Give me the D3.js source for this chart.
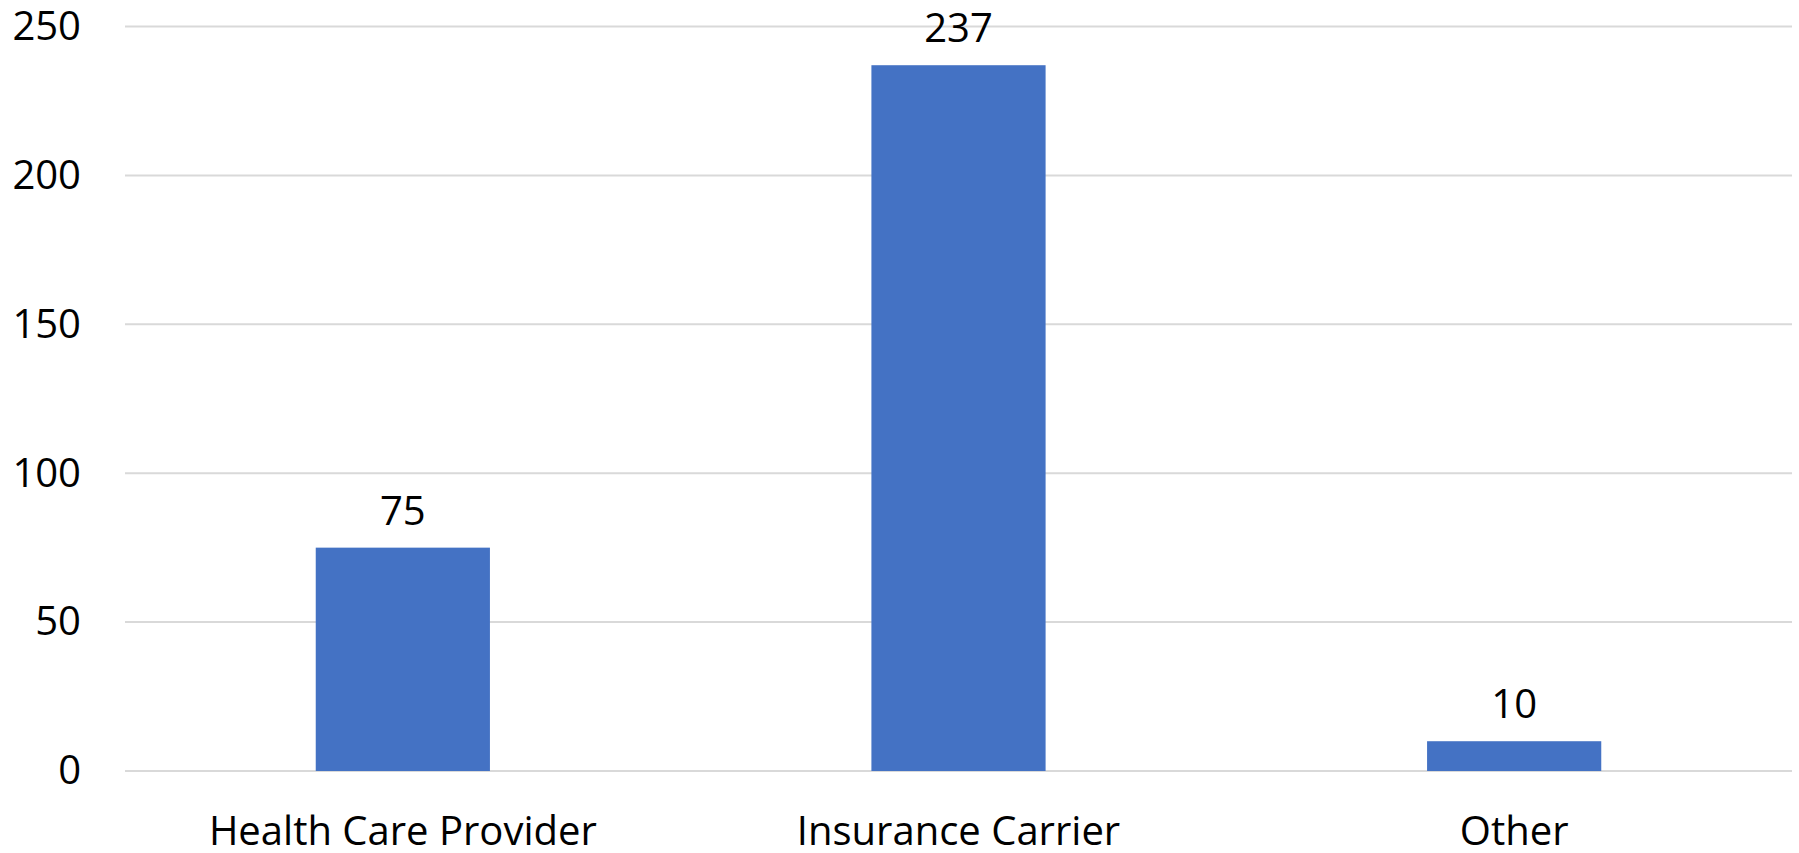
<!DOCTYPE html>
<html>
<head>
<meta charset="utf-8">
<script src="https://cdn.jsdelivr.net/npm/d3@7"></script>
<style>
  html, body { margin: 0; padding: 0; background: #ffffff; }
  svg { display: block; }
  text { font-family: "Open Sans", "Noto Sans", sans-serif; fill: #000000; }
</style>
</head>
<body>
<svg id="chart" width="1799" height="853"></svg>
<script>
const categories = ["Health Care Provider", "Insurance Carrier", "Other"];
const values = [75, 237, 10];
const yTicks = [0, 50, 100, 150, 200, 250];

const W = 1799, H = 853;
const margin = { left: 125, right: 7, top: 26.5, bottom: 82 };
const fontSize = 40;

const svg = d3.select("#chart");

const x = d3.scaleBand()
  .domain(categories)
  .range([margin.left, W - margin.right])
  .padding(0);

const y = d3.scaleLinear()
  .domain([0, 250])
  .range([H - margin.bottom, margin.top]);

const barW = x.bandwidth() / 3.19;

// gridlines
svg.append("g")
  .selectAll("line")
  .data(yTicks)
  .join("line")
  .attr("x1", margin.left)
  .attr("x2", W - margin.right)
  .attr("y1", d => y(d))
  .attr("y2", d => y(d))
  .attr("stroke", "#d9d9d9")
  .attr("stroke-width", 2);

// y axis labels
const yAxis = d3.axisLeft(y).tickValues(yTicks).tickSize(0).tickPadding(0);
const yg = svg.append("g")
  .attr("transform", `translate(${margin.left - 44},0)`)
  .call(yAxis);
yg.select(".domain").remove();
yg.selectAll("text")
  .attr("font-size", fontSize)
  .attr("font-family", '"Open Sans", "Noto Sans", sans-serif')
  .attr("fill", "#000");

// bars
svg.append("g")
  .selectAll("rect")
  .data(values)
  .join("rect")
  .attr("x", (d, i) => x(categories[i]) + (x.bandwidth() - barW) / 2)
  .attr("y", d => y(d))
  .attr("width", barW)
  .attr("height", d => y(0) - y(d))
  .attr("fill", "#4472c4");

// value labels
svg.append("g")
  .selectAll("text")
  .data(values)
  .join("text")
  .attr("x", (d, i) => x(categories[i]) + x.bandwidth() / 2)
  .attr("y", d => y(d) - 23)
  .attr("text-anchor", "middle")
  .attr("font-size", fontSize)
  .text(d => d);

// x axis labels
const xAxis = d3.axisBottom(x).tickSize(0).tickPadding(0);
const xg = svg.append("g")
  .attr("transform", `translate(0,${H - margin.bottom})`)
  .call(xAxis);
xg.select(".domain").remove();
xg.selectAll("text")
  .attr("font-size", fontSize)
  .attr("font-family", '"Open Sans", "Noto Sans", sans-serif')
  .attr("fill", "#000")
  .attr("dy", null)
  .attr("y", 74);
</script>
</body>
</html>
